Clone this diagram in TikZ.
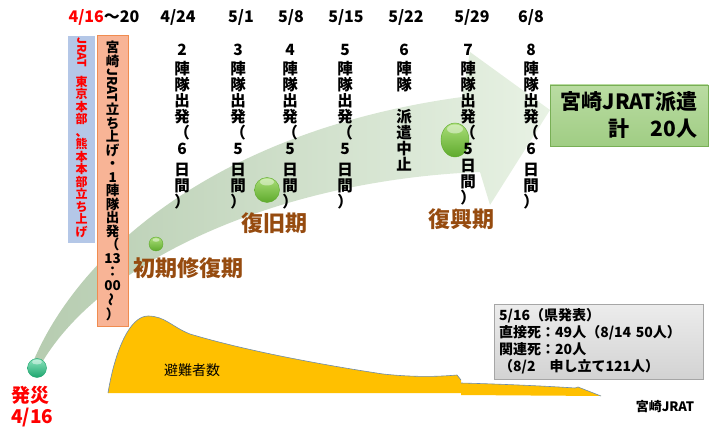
\documentclass[tikz,border=0pt]{standalone}
\usepackage{fontspec}
\setmainfont{Noto Sans CJK JP}
\usepackage{graphicx}
\usepackage{xcolor}
\usetikzlibrary{positioning}
\definecolor{fasebrown}{RGB}{150,75,15}
\definecolor{boxblue}{RGB}{180,199,231}
\definecolor{boxorange}{RGB}{248,180,150}
\definecolor{boxorangeline}{RGB}{240,140,80}
\definecolor{sfollatigiallo}{RGB}{255,192,0}
\definecolor{sfollatiline}{RGB}{110,140,170}
\definecolor{bandtail}{RGB}{182,204,176}
\definecolor{bandhead}{RGB}{232,242,228}
\definecolor{totaltop}{RGB}{186,220,162}
\definecolor{totalbot}{RGB}{160,205,132}
\definecolor{totalline}{RGB}{120,175,85}
\definecolor{balltop}{RGB}{170,222,120}
\definecolor{ballbot}{RGB}{95,170,45}
\definecolor{tealtop}{RGB}{140,228,190}
\definecolor{tealbot}{RGB}{30,165,110}
\newcommand{\tatelatin}[1]{\rotatebox[origin=c]{-90}{#1}}

\begin{document}
\begin{tikzpicture}[x=1pt, y=-1pt,
    date/.style={font=\bfseries\fontsize{16}{16}\selectfont, inner sep=0pt},
    tate/.style={anchor=north, align=center, inner sep=0pt, font=\bfseries\fontsize{15.5}{16}\selectfont},
    fase/.style={text=fasebrown, font=\bfseries\fontsize{22}{22}\selectfont, inner sep=0pt},
    pallina/.style={top color=balltop, bottom color=ballbot, draw=ballbot, line width=0.4pt},
    riflesso/.style={fill=white, opacity=0.45},
    notebox/.style={draw=gray!70, top color=gray!15, bottom color=gray!35, anchor=north west,
        minimum height=75, text width=199, inner xsep=5, inner ysep=3, align=left,
        font=\bfseries\fontsize{14}{17}\selectfont},
    totalbox/.style={draw=totalline, top color=totaltop, bottom color=totalbot,
        minimum width=158, minimum height=61, align=right,
        font=\bfseries\fontsize{21}{27}\selectfont}]
    \useasboundingbox (0,0) rectangle (712,427);

    % freccia curva verde
    \shade[left color=bandtail, right color=bandhead]
        (33,362) .. controls (80,250) and (220,130) .. (462,97) -- (470,52) -- (550,110)
        -- (490,205) -- (480,172) .. controls (280,180) and (100,260) .. (40,366) -- cycle;

    % sfollati
    \fill[sfollatigiallo] (108,393) .. controls (115,350) and (130,316) .. (148,316)
        .. controls (165,316) and (172,327) .. (190,334)
        .. controls (250,352) and (330,366) .. (383,374)
        .. controls (420,378) and (445,376) .. (457,375) -- (461,380) -- (461,383)
        .. controls (500,384) and (545,386) .. (575,388) -- (578,387) -- (601,396)
        -- (461,395) -- (461,393) -- cycle;
    \draw[sfollatiline, line width=0.6pt] (108,393) .. controls (115,350) and (130,316) .. (148,316)
        .. controls (165,316) and (172,327) .. (190,334)
        .. controls (250,352) and (330,366) .. (383,374)
        .. controls (420,378) and (445,376) .. (457,375) -- (461,380);
    \draw[sfollatiline, line width=0.6pt] (461,383)
        .. controls (500,384) and (545,386) .. (575,388) -- (578,387) -- (601,396);
    \node[font=\fontsize{14}{14}\selectfont] (sfollati) at (192,370) {避難者数};

    % palline
    \shade[pallina, top color=tealtop, bottom color=tealbot, draw=tealbot] (37,368) circle (9.5);
    \fill[riflesso] (37,362) ellipse (5 and 2.5);
    \shade[pallina] (156,244) circle (7);
    \fill[riflesso] (156,240) ellipse (3.5 and 1.8);
    \shade[pallina] (267,190) circle (12.5);
    \fill[riflesso] (267,182) ellipse (7 and 3.5);
    \shade[pallina] (455,140) ellipse (14 and 17);
    \fill[riflesso] (455,129) ellipse (8 and 4.5);

    % date
    \node[date] (d416) at (104,17) {\textcolor{red}{4/16}〜20};
    \node[date] (d424) at (178,17) {4/24};
    \node[date] (d501) at (241,17) {5/1};
    \node[date] (d508) at (291,17) {5/8};
    \node[date] (d515) at (346,17) {5/15};
    \node[date] (d522) at (406,17) {5/22};
    \node[date] (d529) at (472,17) {5/29};
    \node[date] (d608) at (531,17) {6/8};

    % riquadri verticali a sinistra
    \node[fill=boxblue, minimum width=27, minimum height=207, inner sep=0pt, anchor=north west] (jratbox) at (68,36) {};
    \node[tate, text=red, font=\bfseries\fontsize{12}{12.5}\selectfont, below=1pt of jratbox.north] (jrattxt)
        {\tatelatin{JRAT}\\[8pt]東\\京\\本\\部\\、\\熊\\本\\本\\部\\立\\ち\\上\\げ};
    \node[fill=boxorange, draw=boxorangeline, minimum width=31, minimum height=291, inner sep=0pt, anchor=north west] (mzbox) at (97,35) {};
    \node[tate, font=\bfseries\fontsize{13.5}{13.5}\selectfont, below=6pt of mzbox.north] (mztxt)
        {宮\\崎\\\tatelatin{JRAT}\\立\\ち\\上\\げ\\・\\1\\陣\\隊\\出\\発\\（\\13\\：\\00\\\rotatebox[origin=c]{90}{〜}\\）};

    % squadre
    \node[tate] (sq2) at (182,44) {2\\[3pt]陣\\隊\\出\\発\\（\\6\\[5pt]日\\間\\）};
    \node[tate] (sq3) at (238,44) {3\\[3pt]陣\\隊\\出\\発\\（\\5\\[5pt]日\\間\\）};
    \node[tate] (sq4) at (290,44) {4\\[3pt]陣\\隊\\出\\発\\（\\5\\[5pt]日\\間\\）};
    \node[tate] (sq5) at (345,44) {5\\[3pt]陣\\隊\\出\\発\\（\\5\\[5pt]日\\間\\）};
    \node[tate] (sq6) at (404,44) {6\\[3pt]陣\\隊\\[16pt]派\\遣\\中\\止};
    \node[tate] (sq7) at (468,44) {7\\[3pt]陣\\隊\\出\\発\\（\\5\\[1pt]日\\間\\）};
    \node[tate] (sq8) at (531,44) {8\\[3pt]陣\\隊\\出\\発\\（\\6\\[5pt]日\\間\\）};

    % fasi
    \node[fase] (fase1) at (188,268) {初期修復期};
    \node[fase] (fase2) at (274,223) {復旧期};
    \node[fase] (fase3) at (461,219) {復興期};

    \node[text=red, align=left, anchor=west, inner sep=0pt, font=\bfseries\fontsize{19}{21}\selectfont] (hassai) at (11,407) {発災\\4/16};

    \node[totalbox] (totale) at (629,115.5) {宮崎JRAT派遣\\計　20人};
    \node[notebox] (nota) at (494,304) {5/16（県発表）\\直接死：49人（8/14 50人）\\関連死：20人\\（8/2　申し立て121人）};
    \node[font=\bfseries\fontsize{13}{13}\selectfont] (firma) at (665,407) {宮崎JRAT};
\end{tikzpicture}
\end{document}
